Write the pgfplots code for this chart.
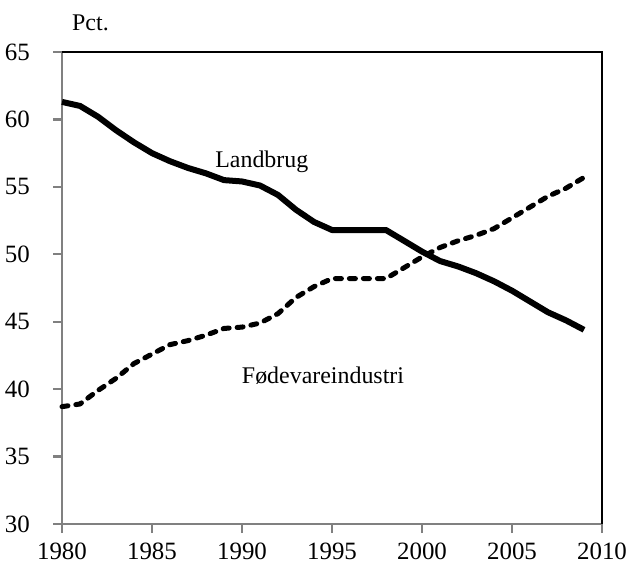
\documentclass[border=0pt]{standalone}
\usepackage{fontspec}
\setmainfont{Liberation Serif}
\usepackage{pgfplots}
\pgfplotsset{compat=1.18}

\pgfplotstableread{
year landbrug foede
1980 61.3 38.7
1981 61.0 38.9
1982 60.2 39.9
1983 59.2 40.8
1984 58.3 41.9
1985 57.5 42.6
1986 56.9 43.3
1987 56.4 43.6
1988 56.0 44.0
1989 55.5 44.5
1990 55.4 44.6
1991 55.1 44.9
1992 54.4 45.6
1993 53.3 46.8
1994 52.4 47.6
1995 51.8 48.2
1996 51.8 48.2
1997 51.8 48.2
1998 51.8 48.2
1999 51.0 49.0
2000 50.2 49.8
2001 49.5 50.5
2002 49.1 51.0
2003 48.6 51.4
2004 48.0 51.9
2005 47.3 52.7
2006 46.5 53.5
2007 45.7 54.3
2008 45.1 54.9
2009 44.4 55.7
}\datatable

\begin{document}
\begin{tikzpicture}
% page frame: same margins as the reference round the axis box
\useasboundingbox (-62bp,-43bp) rectangle (567bp,524bp);
\begin{axis}[
    at={(0,0)}, anchor=south west,
    scale only axis,
    width=540bp, height=472bp,
    xmin=1980, xmax=2010,
    ymin=30, ymax=65,
    xtick={1980,1985,...,2010},
    ytick={30,35,...,65},
    axis lines=left,
    axis line style={-, gray, line width=2.8bp},
    tick align=outside,
    major tick length=9bp,
    tick style={gray, line width=2.2bp},
    tick label style={font=\fontsize{25}{27}\selectfont},
    /pgf/number format/assume math mode=true,
    xticklabel style={/pgf/number format/1000 sep={}, anchor=north, inner sep=0pt, yshift=-10bp},
    yticklabel style={anchor=east, inner sep=0pt, xshift=-23bp},
    clip=false,
]
\draw[black, line width=2.8bp] (rel axis cs:0,1) -- (rel axis cs:1,1) -- (rel axis cs:1,0);

% Landbrug
\addplot[black, line width=6bp, line join=round] table[x=year, y=landbrug] {\datatable};
% Foedevareindustri
\addplot[black, line width=5bp, line cap=round, line join=round, dash pattern=on 6bp off 8bp] table[x=year, y=foede] {\datatable};

\node[font=\fontsize{24}{26}\selectfont, anchor=base] at (axis cs:1991.1,56.4) {Landbrug};
\node[font=\fontsize{24}{26}\selectfont, anchor=base] at (axis cs:1994.5,40.4) {Fødevareindustri};
\node[font=\fontsize{24}{26}\selectfont, anchor=base west, inner sep=0pt] at ([xshift=10bp,yshift=21bp]rel axis cs:0,1) {Pct.};
\end{axis}
\end{tikzpicture}
\end{document}
